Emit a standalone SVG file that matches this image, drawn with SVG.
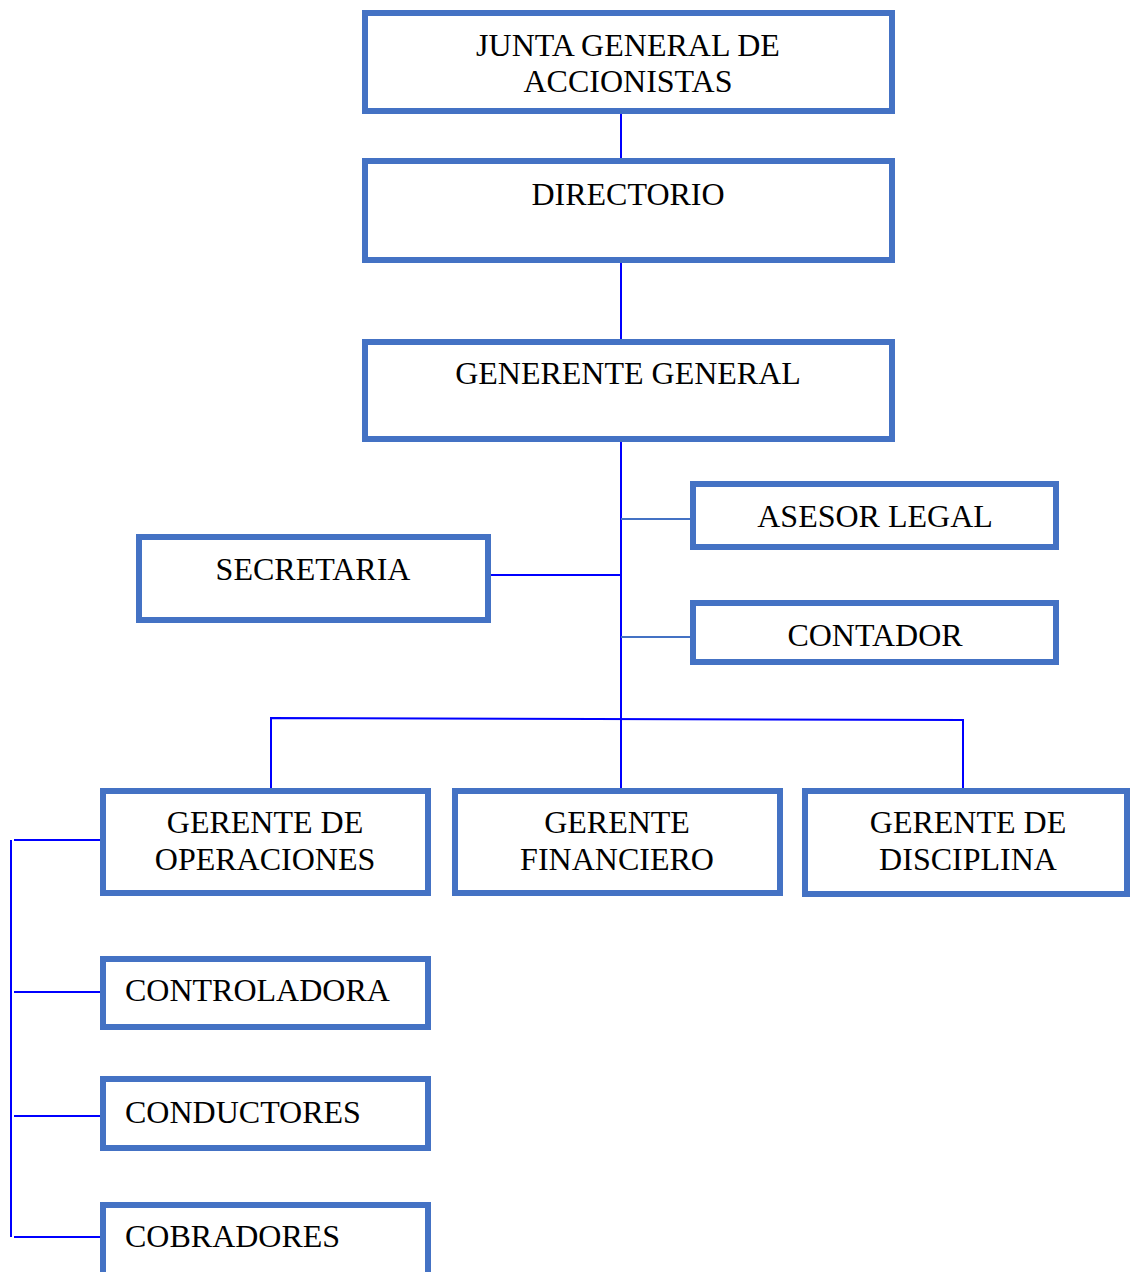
<svg xmlns="http://www.w3.org/2000/svg" width="1130" height="1272" viewBox="0 0 1130 1272">
<style>
.box{fill:#fff;stroke:#4472C4;stroke-width:6}
.t{font-family:"Liberation Serif","Times New Roman",serif;font-size:32px;fill:#000}
.c{text-anchor:middle}
.ln{stroke:#0000FF;stroke-width:2;fill:none}
.lt{stroke:#4472C4;stroke-width:2;fill:none}
</style>
<rect width="1130" height="1272" fill="#fff"/>
<g id="connectors">
<line class="ln" x1="621" y1="114" x2="621" y2="158"/>
<line class="ln" x1="621" y1="263" x2="621" y2="339"/>
<line class="ln" x1="621" y1="442" x2="621" y2="790"/>
<line class="lt" x1="621" y1="519" x2="690" y2="519"/>
<line class="lt" x1="621" y1="637" x2="690" y2="637"/>
<line class="ln" x1="488" y1="575" x2="621" y2="575"/>
<polyline class="ln" points="271,790 271,718 963,720 963,790"/>
<line class="ln" x1="11" y1="840" x2="11" y2="1237"/>
<line class="ln" x1="14" y1="840" x2="102" y2="840"/>
<line class="ln" x1="14" y1="992" x2="102" y2="992"/>
<line class="ln" x1="14" y1="1116" x2="102" y2="1116"/>
<line class="ln" x1="14" y1="1237" x2="102" y2="1237"/>
</g>
<g id="junta"><rect class="box" x="365" y="13" width="527" height="98"/><text class="t c" x="628" y="56">JUNTA GENERAL DE</text><text class="t c" x="628" y="92">ACCIONISTAS</text></g>
<g id="directorio"><rect class="box" x="365" y="161" width="527" height="99"/><text class="t c" x="628" y="205">DIRECTORIO</text></g>
<g id="gerente-general"><rect class="box" x="365" y="342" width="527" height="97"/><text class="t c" x="628" y="384">GENERENTE GENERAL</text></g>
<g id="asesor-legal"><rect class="box" x="693" y="484" width="363" height="63"/><text class="t c" x="875" y="527">ASESOR LEGAL</text></g>
<g id="secretaria"><rect class="box" x="139" y="537" width="349" height="83"/><text class="t c" x="313" y="580">SECRETARIA</text></g>
<g id="contador"><rect class="box" x="693" y="603" width="363" height="59"/><text class="t c" x="875" y="646">CONTADOR</text></g>
<g id="gerente-operaciones"><rect class="box" x="103" y="791" width="325" height="102"/><text class="t c" x="265" y="833">GERENTE DE</text><text class="t c" x="265" y="870">OPERACIONES</text></g>
<g id="gerente-financiero"><rect class="box" x="455" y="791" width="325" height="102"/><text class="t c" x="617" y="833">GERENTE</text><text class="t c" x="617" y="870">FINANCIERO</text></g>
<g id="gerente-disciplina"><rect class="box" x="805" y="791" width="322" height="103"/><text class="t c" x="968" y="833">GERENTE DE</text><text class="t c" x="968" y="870">DISCIPLINA</text></g>
<g id="controladora"><rect class="box" x="103" y="959" width="325" height="68"/><text class="t" x="125" y="1001">CONTROLADORA</text></g>
<g id="conductores"><rect class="box" x="103" y="1079" width="325" height="69"/><text class="t" x="125" y="1123">CONDUCTORES</text></g>
<g id="cobradores"><rect class="box" x="103" y="1205" width="325" height="72"/><text class="t" x="125" y="1247">COBRADORES</text></g>
</svg>
